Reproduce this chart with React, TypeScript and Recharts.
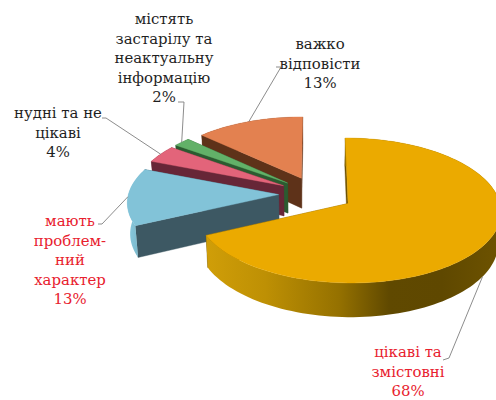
import React from "react";
import { PieChart, Pie } from "recharts";

const categories = ["важко відповісти", "містять застарілу та неактуальну інформацію", "нудні та не цікаві", "мають проблемний характер", "цікаві та змістовні"];
const values = [13, 2, 4, 13, 68];
const labelLines = [
  ["важко", "відповісти", "13%"],
  ["містять", "застарілу та", "неактуальну", "інформацію", "2%"],
  ["нудні та не", "цікаві", "4%"],
  ["мають", "проблем-", "ний", "характер", "13%"],
  ["цікаві та", "змістовні", "68%"],
];
const topColors = ["#E38150", "#62B168", "#E3647A", "#82C3D8", "#EBAA00"];
const cutColors = ["#5E3219", "#2B5B30", "#672637", "#3D5863", "#6E5200"];
const wallStops = [
  [["0%", "#5E3219"], ["100%", "#5E3219"]],
  [["0%", "#2B5B30"], ["100%", "#2B5B30"]],
  [["0%", "#672637"], ["100%", "#672637"]],
  [["0%", "#8ACBDF"], ["100%", "#6FA9BC"]],
  [["0%", "#D09E08"], ["20%", "#BE9004"], ["45%", "#957100"], ["62%", "#604900"], ["80%", "#5F4800"], ["100%", "#6E5300"]],
];
const labelColors = ["#1F1F1F", "#1F1F1F", "#1F1F1F", "#E8212E", "#E8212E"];
const labelAnchors = [
  { x: 320, y: 49, bend: [281, 67], end: [276, 67], onWall: false },
  { x: 164, y: 24, bend: [184, 102], end: [178, 102], onWall: false },
  { x: 58, y: 118, bend: [106, 118], end: [102, 118], onWall: false },
  { x: 70, y: 226, bend: [102, 224], end: [98, 224], onWall: false },
  { x: 408, y: 357, bend: [449, 358], end: [443, 360], onWall: true },
];

const data = categories.map((name, i) => ({ name, value: values[i] }));

const EXPLODE = 0.25;
const TILT = 70 / 150;
const PERSP = 0.095;
const DEPTH = 30.5;

function project(cx: number, cy: number, R: number, X: number, Y: number, low: boolean) {
  const s = 1 / (1 - PERSP * Y);
  return [cx + R * X * s * (low ? 0.985 : 1), cy + R * TILT * Y * s + (low ? DEPTH * s : 0)];
}
const rad = (d: number) => (d * Math.PI) / 180;
const toPath = (pts: number[][]) => "M" + pts.map((p) => p[0].toFixed(2) + " " + p[1].toFixed(2)).join("L") + "Z";

function Slice3D(props: any) {
  const { cx, cy, outerRadius: R, startAngle, endAngle, midAngle } = props;
  const name = props.name ?? props.payload?.name;
  const i = categories.indexOf(name);
  const ox = EXPLODE * Math.cos(rad(midAngle));
  const oy = -EXPLODE * Math.sin(rad(midAngle));
  const at = (a: number, r: number, low: boolean) =>
    project(cx, cy, R, ox + r * Math.cos(rad(a)), oy - r * Math.sin(rad(a)), low);
  const n = Math.max(2, Math.ceil((endAngle - startAngle) / 2));
  const angles = Array.from({ length: n + 1 }, (_, k) => startAngle + ((endAngle - startAngle) * k) / n);
  const top = [at(0, 0, false), ...angles.map((a) => at(a, 1, false))];
  const wall = [...angles.map((a) => at(a, 1, false)), ...[...angles].reverse().map((a) => at(a, 1, true))];
  const cut = (a: number) => [at(0, 0, false), at(a, 1, false), at(a, 1, true), at(0, 0, true)];
  const id = "wall" + i;
  const stops = wallStops[i];
  return (
    <g>
      <defs>
        <linearGradient id={id} x1="0" y1="0" x2="1" y2="0">
          {stops.map((st) => (
            <stop key={st[0]} offset={st[0]} stopColor={st[1]} />
          ))}
        </linearGradient>
      </defs>
      <path d={toPath(cut(startAngle))} fill={cutColors[i]} stroke={cutColors[i]} strokeWidth={0.4} />
      <path d={toPath(cut(endAngle))} fill={cutColors[i]} stroke={cutColors[i]} strokeWidth={0.4} />
      <path d={toPath(wall)} fill={`url(#${id})`} />
      <path d={toPath(top)} fill={topColors[i]} stroke={topColors[i]} strokeWidth={0.4} />
    </g>
  );
}

function SliceLabel(props: any) {
  const { cx, cy, outerRadius: R, midAngle } = props;
  const name = props.name ?? props.payload?.name;
  const i = categories.indexOf(name);
  const a = labelAnchors[i];
  const f = 1 + EXPLODE;
  const tip = project(cx, cy, R, f * Math.cos(rad(midAngle)), -f * Math.sin(rad(midAngle)), a.onWall);
  return (
    <g>
      <polyline
        points={`${tip[0]},${tip[1]} ${a.bend[0]},${a.bend[1]} ${a.end[0]},${a.end[1]}`}
        fill="none"
        stroke="#7F7F7F"
        strokeWidth={0.9}
      />
      <text
        textAnchor="middle"
        fontFamily="'DejaVu Serif', serif"
        fontSize={14.9}
        fill={labelColors[i]}
      >
        {labelLines[i].map((line, k) => (
          <tspan key={k} x={a.x} y={a.y + k * 19.6}>
            {line}
          </tspan>
        ))}
      </text>
    </g>
  );
}

export default function App() {
  return (
    <div style={{ position: "absolute", left: 0, top: 0, width: 496, height: 400, overflow: "hidden" }}>
      <PieChart width={496} height={400} margin={{ top: 0, right: 0, bottom: 0, left: 0 }}>
        <Pie
          data={data}
          dataKey="value"
          nameKey="name"
          cx={316}
          cy={194}
          innerRadius={0}
          outerRadius={150}
          startAngle={90}
          endAngle={450}
          paddingAngle={0}
          stroke="none"
          isAnimationActive={false}
          shape={Slice3D}
          label={SliceLabel}
          labelLine={false}
        />
      </PieChart>
    </div>
  );
}
